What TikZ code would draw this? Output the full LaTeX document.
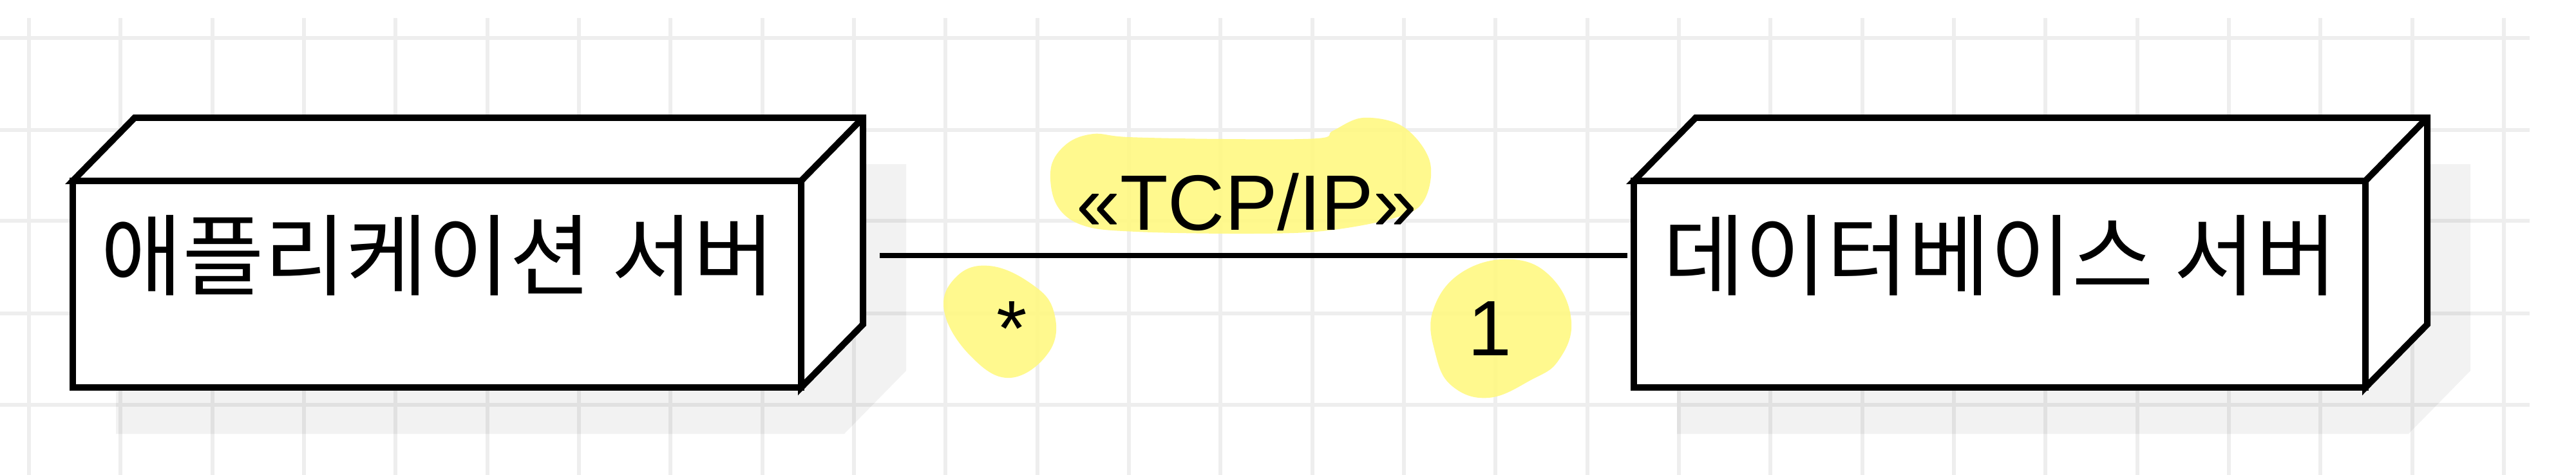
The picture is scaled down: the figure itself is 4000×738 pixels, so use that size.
\documentclass[tikz,border=0pt]{standalone}
\usepackage{fontspec}
\setmainfont{Liberation Sans}
\newfontfamily\kr{Noto Sans CJK KR}
\usetikzlibrary{calc}
\definecolor{gridc}{RGB}{238,238,238}
\definecolor{hl}{RGB}{255,249,130}
\pgfdeclarelayer{bg}
\pgfsetlayers{bg,main}
\newcommand\boxfaces[1]{%
  \draw[face] (#1.north west) -- ([shift={(96,-98)}]#1.north west) -- ([shift={(96,-98)}]#1.north east) -- ([shift={(96,-98)}]#1.south east) -- (#1.south east) -- (#1.north east) -- cycle;
  \draw[face] (#1.north east) -- ([shift={(96,-98)}]#1.north east);}
\newcommand\boxshadow[1]{%
  \fill[black, opacity=0.05] ([shift={(67,72)}]#1.south west) -- ([shift={(67,72)}]#1.south east) -- ([shift={(163,-26)}]#1.south east) -- ([shift={(163,-26)}]#1.north east) -- ([shift={(163,-26)}]#1.north west) -- ([shift={(67,72)}]#1.north west) -- cycle;}
\begin{document}
\begin{tikzpicture}[x=1pt,y=-1pt,
  gridline/.style={gridc, line width=6pt},
  face/.style={draw=black, line width=10pt, fill=white, line join=miter},
  frontface/.style={face, rectangle, minimum width=1131pt, minimum height=321pt, inner sep=0pt, outer sep=0pt},
  lbl/.style={font=\fontsize{122}{122}\selectfont, text=black, inner sep=0pt},
  krlabel/.style={font=\kr\fontsize{138}{138}\selectfont, text=black, inner sep=0pt},
  conn/.style={draw=black, line width=8pt},
  hilite/.style={fill=hl, opacity=0.9}]
\useasboundingbox (0,0) rectangle (4000,738);
% nodes
\node[frontface] (app) at (678.5,441.5) {};
\node[frontface, minimum width=1136pt] (db) at (3105,441.5) {};
\boxfaces{app}
\boxfaces{db}
\node[krlabel] (apptext) at (680,397) {애플리케이션 서버};
\node[krlabel] (dbtext) at (3106,397) {데이터베이스 서버};
% background
\begin{pgfonlayer}{bg}
  \fill[white] (0,0) rectangle (4000,738);
  \foreach \i in {0,...,27} \draw[gridline] ({45+142.33*\i},28) -- ({45+142.33*\i},738);
  \foreach \j in {59,202,343,487,629} \draw[gridline] (0,\j) -- (3928,\j);
  \boxshadow{app}
  \boxshadow{db}
  % highlighter marks
  \fill[hilite] plot[smooth cycle, tension=0.6] coordinates {(1698,208) (1752,213) (1900,216) (2046,215) (2070,203) (2117,183) (2179,197) (2220,250) (2212,310) (2171,337) (2063,358) (1947,363) (1764,360) (1681,350) (1640,317) (1632,260) (1657,223)};
  \fill[hilite] plot[smooth cycle, tension=0.7] coordinates {(1536,413) (1600,440) (1636,483) (1630,545) (1569,587) (1507,553) (1466,483) (1485,430)};
  \fill[hilite] plot[smooth cycle, tension=0.7] coordinates {(2349,403) (2411,433) (2440,500) (2420,560) (2378,590) (2312,618) (2255,600) (2229,550) (2225,483) (2270,423)};
\end{pgfonlayer}
% connector
\draw[conn] ($(app.east|-apptext.center)+(122,0)$) -- ($(db.west|-dbtext.center)+(-10,0)$);
\node[lbl, anchor=base] (tcp) at (1936,357) {«TCP/IP»};
\node[lbl, anchor=base] (mstar) at (1571,552) {*};
\node[lbl, anchor=base] (mone) at (2313,552) {1};
\end{tikzpicture}
\end{document}
